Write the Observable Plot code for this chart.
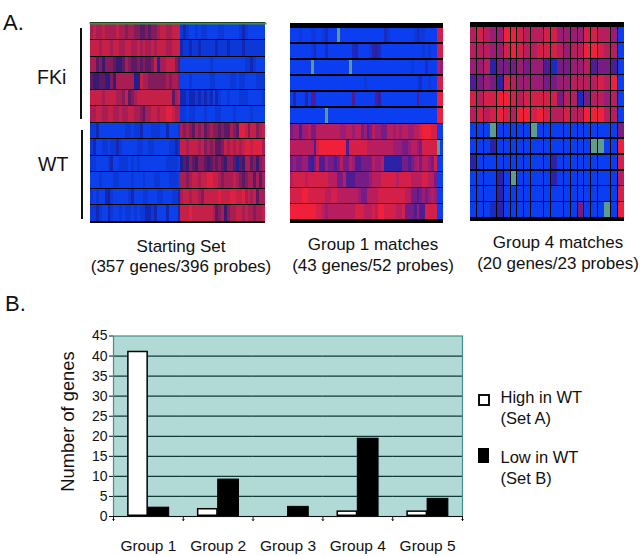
<!DOCTYPE html>
<html>
<head>
<meta charset="utf-8">
<script src="https://cdn.jsdelivr.net/npm/d3@7"></script>
<script src="https://cdn.jsdelivr.net/npm/@observablehq/plot@0.6"></script>
<style>
html,body{margin:0;padding:0;background:#fff}
#page{position:relative;width:640px;height:556px;overflow:hidden;font-family:"Liberation Sans",Arial,sans-serif;color:#111}
.abs{position:absolute}
.lab{position:absolute;white-space:nowrap;line-height:1;transform:translateY(-50%)}
.cap{position:absolute;text-align:center;white-space:nowrap;font-size:17px;line-height:20.5px;transform:translateX(-50%)}
.abs svg{display:block}
</style>
</head>
<body>
<div id="page"></div>
<script>
// Heatmap rows: digit 0 (blue) to 9 (red), g = missing probe
const startingSetRows = [
  "7877877778 7767766556 5667887788 8 1210010110 0001100000 121000000",
  "8887888788 7788778787 7878887788 8 2112112111 1121112111 121111111",
  "7756466654 4576556565 5682778886 5 0000000000 1000000000 001121000",
  "5445543647 7777734877 6666667677 6 0001000000 1100000110 110000111",
  "8888788887 7685678888 8888888857 8 2212212121 2021001000 111000001",
  "7788778877 8778877657 7887889987 7 1101100010 0011000010 000010000",
  "1120000000 0011011200 0111002000 1 7676576756 7665655765 998688678",
  "1200110112 1000001100 1100000112 1 8878887867 6755687878 789989997",
  "1100001200 1110101000 0000001111 0 3546546654 5656546653 547756467",
  "0001000011 0000100010 0011000111 0 7767887889 9887677787 656775757",
  "1010023100 0001200011 0001100011 2 7887887688 8889888998 897878577",
  "1121002100 1011010112 2120002000 2 8889888888 8756746778 878776778"
];
const group1Rows = [
  "0001000110 012000g000 0000000000 0021000000 0012110000 88",
  "0000000120 0020000000 0230000133 2000000000 0000010100 88",
  "0000000g00 0000000000 g000000000 0000000000 0100002000 76",
  "0000000000 0000000000 0000010000 0000000000 0001200100 88",
  "0300030440 0000000000 0400000004 3000000000 0004000000 99",
  "0000000000 00g0000000 0000000000 0000000000 0000000000 99",
  "5664667557 7777777667 7677564576 6557767677 6677899988 00",
  "7777777748 9999999994 8888887777 7777766655 6776588888 g0",
  "5655664357 4465545755 7644555576 6733333355 4567577658 00",
  "7888878888 8887775574 4455555677 7888887888 8777788775 00",
  "8888998888 8877887777 7776557777 8888888887 7554565676 00",
  "9999999998 8767777777 7788877787 9988887785 5546448888 00"
];
const group4Rows = [
  "7876699877 7886666887 760",
  "7776689877 8887677998 770",
  "6673555656 6425566745 540",
  "4565387666 6556677778 790",
  "8788998788 8885772577 670",
  "7878987998 9877877999 770",
  "000g00000g 0000000000 005",
  "0003000000 00000000gg 009",
  "3000000000 0030000000 008",
  "000030g000 0030000000 007",
  "0000300000 0000000000 008",
  "0002300000 0000005000 g09"
];
const heatDomain = [0,1,2,3,4,5,6,7,8,9];
const heatColors = ["#0a3ef0","#0c38dc","#1a2cc0","#2c22a8","#501c94","#761c84","#9a1c74","#b81e5e","#d42048","#f0203a"];
const startingColors = ["#0c40ea","#0c38d8","#1228b4","#1c2090","#3a1a70","#5c1a64","#841c5c","#a81e54","#c42048","#e02040"];

const groups = ["Group 1","Group 2","Group 3","Group 4","Group 5"];
const setNames = ["A","B"];
const highInWT = [41.2, 2, 0, 1.4, 1.4];
const lowInWT = [2.2, 9.2, 2.4, 19.4, 4.4];
const yTicks = [0,5,10,15,20,25,30,35,40,45];
const gridTicks = [5,10,15,20,25,30,35,40];

const page = document.getElementById("page");

function place(node, left, top){
  const w = document.createElement("div");
  w.className = "abs";
  w.style.left = left + "px";
  w.style.top = top + "px";
  w.appendChild(node);
  page.appendChild(w);
  return w;
}

function heatmap(rows, o){
  const data = [];
  rows.forEach((r, i) => {
    [...r.replace(/ /g,"")].forEach((c, j) => data.push({row:i, col:j, v:c}));
  });
  const nCols = rows[0].replace(/ /g,"").length;
  return Plot.plot({
    width:o.width, height:o.height,
    marginTop:o.marginTop, marginBottom:o.marginBottom, marginLeft:0, marginRight:0,
    style:{background:"#000", overflow:"visible", filter:"blur(0.45px)"},
    x:{type:"band", domain:d3.range(nCols), padding:0, paddingInner:o.xGap, paddingOuter:o.xGap/2, round:false, axis:null},
    y:{type:"band", domain:d3.range(rows.length), paddingInner:o.yGap, paddingOuter:0, round:false, axis:null},
    color:{type:"linear", domain:heatDomain, range:o.colors},
    marks:[
      Plot.cell(data.filter(d => d.v !== "g"), {x:"col", y:"row", fill:d => +d.v, shapeRendering:"crispEdges"}),
      Plot.cell(data.filter(d => d.v === "g"), {x:"col", y:"row", fill:"#5f9c8e", shapeRendering:"crispEdges"}),
      ...(o.topLine ? [Plot.frame({anchor:"top", stroke:o.topLine, strokeWidth:2, dy:-1})] : [])
    ]
  });
}

place(heatmap(startingSetRows,{width:175,height:201,marginTop:2,marginBottom:2.5,xGap:0,yGap:0.09,topLine:"#3f8f3f",colors:startingColors}),90,22);
place(heatmap(group1Rows,{width:153,height:200,marginTop:4.5,marginBottom:4,xGap:0,yGap:0.09,colors:heatColors}),290,23);
place(heatmap(group4Rows,{width:154,height:199,marginTop:5.3,marginBottom:4,xGap:0.12,yGap:0.08,colors:heatColors}),470,22);

// Bar chart
const bars = groups.flatMap((g,i) => [
  {group:g, set:setNames[0], value:highInWT[i]},
  {group:g, set:setNames[1], value:lowInWT[i]}
]);
const bar = Plot.plot({
  width:430, height:236,
  marginLeft:73, marginRight:8, marginTop:15.5, marginBottom:40,
  style:{overflow:"visible", fontFamily:"'Liberation Sans',Arial,sans-serif", color:"#111"},
  fx:{domain:groups, padding:0, round:false, label:null},
  x:{domain:setNames, paddingInner:0, paddingOuter:0.68, round:false, axis:null},
  y:{domain:[0,45], label:null},
  marks:[
    Plot.frame({fill:"#b1d9d6", facet:"super"}),
    Plot.ruleY(gridTicks,{stroke:"#0f3a38", strokeWidth:1.2}),
    Plot.frame({stroke:"#3f8f88", strokeWidth:1.2, facet:"super"}),
    Plot.barY(bars.filter(d => d.value > 0 && d.set === "A"),{fx:"group", x:"set", y:"value", fill:"#fff", stroke:"#000", strokeWidth:1.5, inset:0.75}),
    Plot.barY(bars.filter(d => d.value > 0 && d.set === "B"),{fx:"group", x:"set", y:"value", fill:"#000", stroke:"#000", strokeWidth:1}),
    Plot.ruleY([0],{stroke:"#111", strokeWidth:1.2}),
    Plot.axisY({ticks:yTicks, tickSize:4, tickPadding:2, fontSize:14, label:null, stroke:"#111"}),
    Plot.axisFx({anchor:"bottom", tickSize:0, tickPadding:23, fontSize:15.5, label:null}),
    Plot.vector(groups,{fx:d => d, frameAnchor:"bottom-left", length:4, rotate:180, anchor:"start", stroke:"#111", strokeWidth:1}),
    Plot.vector(groups.slice(-1),{fx:d => d, frameAnchor:"bottom-right", length:4, rotate:180, anchor:"start", stroke:"#111", strokeWidth:1}),
    Plot.text(["Number of genes"],{frameAnchor:"left", textAnchor:"middle", rotate:-90, dx:-45, dy:-4.7, fontSize:18.3, fill:"#111", facet:"super"})
  ]
});
place(bar,40,320);

// Text and annotations (y is the vertical centre of the text)
function lab(t,x,y,size){
  const d = document.createElement("div");
  d.className = "lab"; d.textContent = t;
  d.style.left = x+"px"; d.style.top = y+"px"; d.style.fontSize = size+"px";
  page.appendChild(d);
}
function cap(lines,cx,y){
  const d = document.createElement("div");
  d.className = "cap"; d.innerHTML = lines.join("<br>");
  d.style.left = cx+"px"; d.style.top = y+"px";
  page.appendChild(d);
}
function box(x,y,w,h,bg,border){
  const d = document.createElement("div");
  d.className = "abs";
  d.style.cssText += `left:${x}px;top:${y}px;width:${w}px;height:${h}px;background:${bg};`+(border?`border:2px solid ${border};box-sizing:border-box;`:"");
  page.appendChild(d);
}
lab("A.",3,23,22);
lab("B.",5,304,22);
lab("FKi",37,78,19.5);
lab("WT",38,165,19.5);
box(80,28,2.4,91,"#111");
box(81,129.5,2.4,89,"#111");
cap(["Starting Set","(357 genes/396 probes)"],181,236.5);
cap(["Group 1 matches","(43 genes/52 probes)"],373,235);
cap(["Group 4 matches","(20 genes/23 probes)"],558,233);
box(478,394,12,12,"#fff","#111");
box(478,448,11,15,"#000");
lab("High in WT",500.5,397,16.5);
lab("(Set A)",500.5,417.5,16.5);
lab("Low in WT",500.5,457,16.5);
lab("(Set B)",500.5,478,16.5);
</script>
</body>
</html>
